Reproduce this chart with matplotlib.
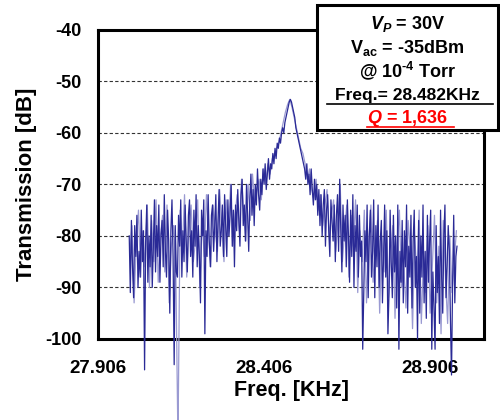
import numpy as np
import matplotlib.pyplot as plt
from matplotlib.patches import Rectangle
from matplotlib.lines import Line2D

plt.rcParams['font.family'] = ['Liberation Sans', 'DejaVu Sans']
plt.rcParams['font.weight'] = 'bold'
plt.rcParams['axes.unicode_minus'] = False
plt.rcParams['mathtext.fontset'] = 'custom'
plt.rcParams['mathtext.rm'] = 'Liberation Sans:bold'
plt.rcParams['mathtext.it'] = 'Liberation Sans:bold:italic'
plt.rcParams['mathtext.bf'] = 'Liberation Sans:bold'

# main sweep (dB), start frequency and step in kHz
f_start = 28.0
f_step = 0.0033
trans = [
    -80, -91, -77, -86, -92, -78, -84, -76, -90, -83,
    -88, -75, -85, -79, -106, -81, -74, -89, -80, -86,
    -76, -90, -82, -73, -87, -78, -84, -74, -89, -80,
    -77, -86, -72, -83, -88, -75, -81, -95, -79, -73,
    -84, -105, -78, -87, -88, -76, -82, -73, -88, -79,
    -85, -74, -81, -87, -76, -73, -84, -79, -88, -75,
    -82, -72, -86, -78, -84, -93, -75, -80, -73, -99,
    -79, -84, -72, -81, -86, -76, -74, -83, -78, -72,
    -85, -77, -71, -82, -79, -74, -84, -72, -78, -84,
    -73, -80, -76, -70, -82, -75, -86, -74, -79, -71,
    -77, -82, -72, -69, -78, -74, -81, -70, -76, -83,
    -73, -68, -76, -71, -78, -70, -74, -67, -72, -75,
    -69, -72, -67, -70, -66, -71, -68, -65, -69, -66,
    -67, -64, -66, -63, -65, -62, -63, -61, -62, -60,
    -59, -60, -58, -57, -56, -55, -54, -53.5, -54, -55,
    -56, -57, -59, -60, -61, -62, -63, -64, -65, -66,
    -67, -69, -66, -70, -68, -72, -67, -71, -74, -69,
    -73, -70, -76, -71, -78, -72, -80, -74, -71, -82,
    -75, -72, -79, -84, -73, -77, -81, -74, -85, -76,
    -72, -83, -69, -79, -87, -74, -81, -76, -86, -73,
    -80, -89, -75, -84, -72, -90, -78, -83, -74, -88,
    -76, -84, -81, -102, -91, -79, -85, -74, -92, -80,
    -75, -88, -83, -73, -92, -78, -86, -74, -90, -81,
    -77, -93, -84, -74, -88, -79, -99, -91, -75, -85,
    -92, -76, -87, -80, -94, -74, -102, -83, -89, -77,
    -93, -79, -86, -74, -95, -82, -88, -76, -94, -81,
    -75, -90, -84, -100, -77, -95, -80, -88, -74, -93,
    -83, -96, -76, -89, -81, -75, -102, -87, -94, -102,
    -78, -91, -84, -97, -75, -88, -95, -80, -74, -92,
    -86, -78, -83, -96, -107, -89, -76, -93, -84, -82,
]

# second, fainter sweep laid under the main one
f_start2 = 28.0015
f_step2 = 0.0066
trans2 = [
    -84, -78, -93, -81, -75, -88, -79, -86, -74, -90,
    -77, -85, -73, -89, -80, -76, -87, -74, -93, -82,
    -78, -86, -120, -75, -83, -72, -88, -79, -74, -85,
    -81, -73, -90, -77, -84, -72, -80, -86, -74, -79,
    -83, -71, -78, -85, -73, -80, -70, -82, -76, -72,
    -79, -69, -75, -81, -70, -77, -68, -74, -71, -69,
    -73, -67, -70, -66, -68, -65, -64, -63, -62, -60,
    -58, -56, -54.5, -53.5, -55, -57, -59, -61, -63, -64,
    -66, -69, -67, -71, -73, -69, -75, -72, -78, -74,
    -71, -80, -76, -73, -83, -77, -70, -85, -79, -74,
    -88, -76, -82, -73, -91, -79, -85, -75, -93, -81,
    -74, -89, -83, -77, -95, -80, -87, -75, -92, -84,
    -78, -96, -82, -75, -90, -86, -94, -77, -83, -98,
    -80, -88, -75, -97, -84, -91, -78, -95, -86, -76,
    -93, -82, -99, -77, -88, -97, -80, -91, -85, -79,
]

freq = f_start + f_step * np.arange(len(trans))
freq2 = f_start2 + f_step2 * np.arange(len(trans2))

xticks = [27.906, 28.406, 28.906]
yticks = [-40, -50, -60, -70, -80, -90, -100]

fig = plt.figure(figsize=(5, 4.2), dpi=100)
ax = fig.add_axes([0.196, 0.193, 0.772, 0.736])

ax.plot(freq2, trans2, color='#9a9ad2', linewidth=0.9, clip_on=False, zorder=3)
ax.plot(freq, trans, color='#2a2a96', linewidth=0.9, clip_on=False, zorder=4)

ax.set_xlim(27.906, 29.068)
ax.set_ylim(-100, -40)
ax.set_xticks(xticks)
ax.set_xticklabels(['%.3f' % t for t in xticks])
ax.set_yticks(yticks)
ax.tick_params(length=0, labelsize=13.5, pad=15, axis='x')
ax.tick_params(length=0, labelsize=13, pad=12, axis='y')
ax.yaxis.grid(True, linestyle=(0, (3, 2)), color='#333333', linewidth=0.8)
for s in ax.spines.values():
    s.set_linewidth(2.2)

ax.set_xlabel('Freq. [KHz]', fontsize=15.5, fontweight='bold', labelpad=2)
ax.set_ylabel('Transmission [dB]', fontsize=16, fontweight='bold', labelpad=6)

# info box
fig.add_artist(Rectangle((0.634, 0.690), 0.362, 0.298, transform=fig.transFigure,
                         facecolor='white', edgecolor='black', linewidth=2.2, zorder=10))
xc = 0.815
fig.text(xc, 0.930, r'$V_P$ = 30V', ha='center', va='baseline', fontsize=13, zorder=11)
fig.text(xc, 0.875, r'V$_{\mathrm{ac}}$ = -35dBm', ha='center', va='baseline', fontsize=13, zorder=11)
fig.text(xc, 0.817, '@ 10$^{\\mathrm{\u2010}4}$ Torr', ha='center', va='baseline', fontsize=13, zorder=11)
fig.text(xc, 0.762, 'Freq.= 28.482KHz', ha='center', va='baseline', fontsize=12.5, zorder=11)
fig.text(xc, 0.706, r'$Q$ = 1,636', ha='center', va='baseline', fontsize=13, color='red', zorder=11)
fig.add_artist(Line2D([0.654, 0.986], [0.752, 0.752], color='black', linewidth=1.2, zorder=11))
fig.add_artist(Line2D([0.734, 0.908], [0.698, 0.698], color='red', linewidth=1.2, zorder=11))

fig.savefig('out.png', dpi=100)
